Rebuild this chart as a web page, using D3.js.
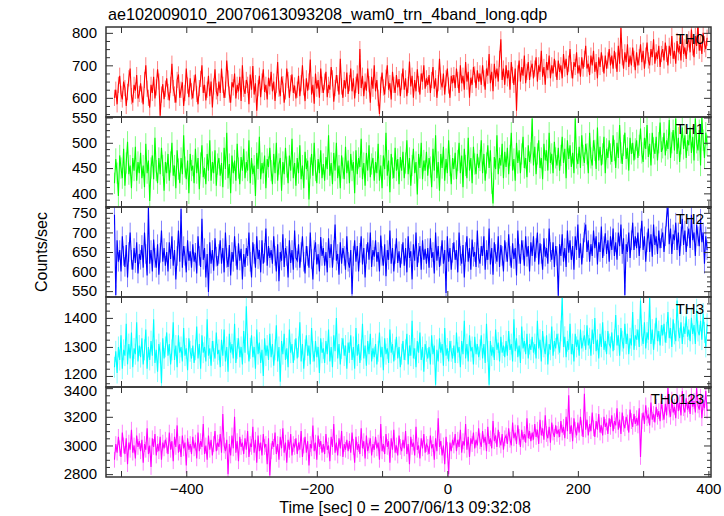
<!DOCTYPE html>
<html><head><meta charset="utf-8">
<script src="https://cdn.jsdelivr.net/npm/d3@7"></script>
<style>
body{margin:0;background:#fff}
svg{display:block}
text{font-family:"Liberation Sans",Arial,Helvetica,sans-serif;fill:#000}
</style>
</head><body>
<svg id="chart" width="724" height="516"></svg>
<script>
const chartTitle = "ae102009010_20070613093208_wam0_trn_4band_long.qdp";
const xTitle = "Time [sec] 0 = 2007/06/13 09:32:08";
const yTitle = "Counts/sec";
const bandNames = ["TH0", "TH1", "TH2", "TH3", "TH0123"];
const xTickLabels = [-400, -200, 0, 200, 400];
const xTickMarks = [-500, -400, -300, -200, -100, 0, 100, 200, 300, 400];
const timeStart = -510, timeStep = 2;
const bandErrors = [25, 21, 25, 36, 55];

const th0 = [
600,625,580,640,668,612,595,650,630,575,618,660,690,605,585,640,622,670,598,612,
645,610,580,655,700,628,600,570,640,615,665,598,632,688,650,545,610,642,596,628,
660,618,592,640,705,630,610,585,655,672,600,625,648,575,615,690,638,602,660,620,
598,645,672,612,580,630,658,700,615,640,592,625,668,605,650,570,635,688,620,605,
650,615,690,640,600,625,715,660,610,585,648,632,675,598,640,620,665,590,700,628,
612,655,640,580,672,625,698,610,645,560,630,668,602,650,688,618,640,595,662,635,
680,620,650,590,640,710,628,605,665,642,585,620,690,655,600,645,672,615,638,598,
625,668,605,645,700,632,590,660,622,650,718,610,640,582,675,628,655,600,690,640,
615,650,680,602,640,625,695,660,588,630,670,645,610,720,635,600,655,628,678,612,
645,690,620,660,598,640,675,612,750,630,668,605,650,622,690,642,585,665,628,700,
620,655,600,550,640,678,632,610,662,700,625,645,595,680,640,615,670,632,658,605,
650,690,625,660,605,640,712,635,668,600,655,620,688,642,610,675,650,700,628,660,
640,670,615,655,695,628,660,600,645,720,650,632,675,610,660,690,638,600,668,645,
670,630,690,655,615,700,645,668,625,710,650,680,600,662,640,695,672,630,685,650,
675,640,700,660,625,690,668,735,645,680,620,705,660,690,650,720,780,655,690,640,
700,660,685,625,710,670,640,690,560,675,715,650,695,668,730,645,680,710,655,690,
705,660,690,725,650,700,680,745,665,695,640,710,685,730,660,700,675,720,690,655,
715,680,700,660,735,690,720,670,705,750,685,660,710,695,740,675,700,665,725,690,
720,760,690,705,670,730,700,745,680,710,660,725,695,740,705,675,730,690,715,750,
700,730,690,745,715,680,760,705,815,725,690,740,710,765,695,730,700,755,720,685,
740,700,725,765,710,745,690,730,770,715,700,750,725,780,705,740,720,760,695,735,
750,715,770,735,700,760,730,790,720,745,705,775,740,760,715,795,735,755,720,770,
780,740,810,755,725,790,760,830,745,770,735,800,765,750,785];

const th1 = [
420,468,440,395,475,450,430,488,415,460,502,438,455,410,470,445,492,425,462,440,
480,430,455,412,498,440,465,385,450,475,428,510,445,420,470,438,490,455,405,462,
440,478,425,462,500,435,455,410,485,448,420,470,438,515,452,428,465,400,478,445,
455,420,488,440,470,408,460,495,432,450,418,478,445,505,425,462,440,485,415,458,
470,435,460,412,490,448,520,430,458,400,475,440,465,425,498,450,418,472,445,488,
430,462,445,505,420,470,438,455,395,480,448,512,428,460,440,475,410,468,452,490,
445,418,478,440,500,425,458,470,405,462,438,490,452,420,475,445,508,430,460,415,
470,440,495,428,455,410,482,448,465,388,450,478,435,500,445,420,468,440,485,430,
458,425,472,448,515,435,460,418,480,445,500,430,455,410,475,450,428,492,440,465,
420,478,445,462,400,485,438,470,452,508,428,460,415,480,445,495,432,458,470,425,
462,440,498,425,455,410,475,448,520,435,465,402,478,450,430,490,445,468,418,472,
445,482,430,460,505,438,470,415,455,488,440,462,398,478,450,500,428,465,445,482,
435,470,452,412,488,445,515,430,462,405,478,450,492,425,468,440,505,455,418,470,
448,480,428,465,500,440,475,412,488,455,430,510,445,470,420,492,458,438,478,450,
465,505,440,478,425,460,495,450,485,420,380,472,448,515,438,470,455,498,430,482,
452,490,438,475,520,445,468,425,500,460,485,440,478,512,450,470,432,495,462,480,
548,455,492,438,478,505,450,470,428,498,465,485,445,520,460,478,440,502,470,455,
490,445,475,512,460,488,430,505,468,495,452,480,440,548,470,458,492,450,515,475,
460,498,478,440,520,470,455,505,485,448,530,465,492,455,478,512,440,488,470,505,
478,462,515,485,450,500,470,535,480,458,495,520,468,490,445,510,478,500,465,488,
505,470,495,528,480,462,510,488,535,472,498,455,520,490,478,512,465,500,540,482,
490,520,475,505,488,545,470,500,525,485,548,478,510,462,498,530,488,515,470,505,
495,530,480,512,465,548,500,485,525,455,550,505,470,520,495];

const th2 = [
745,540,680,625,655,600,690,640,612,668,585,650,700,630,605,660,622,675,595,645,
630,668,610,700,645,590,765,620,655,600,682,635,610,670,592,648,705,625,660,615,
650,600,675,632,690,615,655,580,640,705,625,760,610,665,640,598,680,628,652,610,
670,625,648,595,690,640,612,735,630,660,585,645,548,675,620,655,602,685,638,615,
645,680,620,660,598,700,635,612,668,590,650,625,690,640,605,672,628,658,580,645,
612,660,640,700,625,585,675,645,610,690,632,655,598,680,620,648,710,615,665,635,
655,620,690,640,600,670,575,650,628,695,612,660,640,585,680,622,655,605,705,635,
628,670,610,650,690,625,595,665,640,610,700,632,580,655,675,618,645,600,688,640,
660,615,650,598,685,635,670,610,655,720,628,645,592,675,620,660,640,605,690,625,
610,655,542,640,680,625,665,600,648,690,618,660,585,645,675,630,700,612,655,638,
680,625,650,600,692,640,615,670,588,655,630,705,620,660,600,645,685,622,652,610,
645,675,615,660,598,690,635,652,580,670,628,700,612,648,665,605,680,630,658,620,
660,610,685,635,650,595,700,628,665,612,640,680,620,655,545,690,625,660,605,648,
675,630,655,598,700,640,620,668,585,650,690,625,660,605,682,638,650,612,705,635,
620,665,640,690,605,655,630,710,618,660,592,675,645,625,690,612,668,640,600,680,
650,625,695,640,610,672,632,660,590,705,645,620,680,655,615,690,638,665,600,675,
640,690,625,660,700,618,672,645,605,685,638,660,620,710,650,630,675,612,665,640,
538,670,640,695,625,660,612,705,648,680,630,665,605,690,655,720,635,672,618,660,
700,720,650,680,625,670,640,705,660,690,618,675,650,715,635,665,698,645,680,625,
690,655,710,640,675,630,700,665,720,645,685,540,670,650,700,635,680,725,655,690,
660,700,640,685,730,655,690,625,675,710,650,695,638,720,668,690,645,705,660,685,
700,650,690,740,765,670,710,645,695,680,725,655,700,640,690,735,668,705,650,690,
710,660,745,680,700,640,720,690,665,735,675,700,620,690,655];

const th3 = [
1230,1285,1210,1300,1255,1340,1225,1290,1270,1380,1240,1310,1260,1350,1230,1295,1275,1385,1250,1305,
1265,1330,1240,1290,1360,1225,1300,1255,1320,1270,1395,1245,1290,1215,1310,1280,1175,1330,1260,1300,
1350,1270,1310,1240,1290,1385,1255,1305,1230,1340,1280,1300,1250,1365,1270,1295,1220,1330,1285,1260,
1305,1245,1290,1370,1260,1310,1225,1340,1280,1300,1250,1395,1270,1295,1235,1320,1285,1260,1350,1275,
1290,1230,1325,1270,1360,1250,1300,1215,1345,1280,1310,1260,1380,1245,1295,1330,1265,1300,1240,1355,
1280,1440,1310,1250,1295,1340,1265,1300,1225,1360,1275,1315,1245,1290,1200,1330,1270,1305,1255,1345,
1265,1310,1235,1290,1375,1250,1300,1180,1320,1275,1345,1255,1295,1230,1360,1280,1310,1245,1290,1330,
1260,1300,1385,1250,1310,1225,1290,1340,1270,1305,1240,1365,1285,1250,1320,1265,1300,1210,1330,1280,
1295,1245,1320,1275,1360,1250,1300,1230,1340,1285,1400,1260,1310,1240,1295,1330,1270,1305,1225,1315,
1280,1340,1255,1300,1225,1365,1270,1310,1245,1290,1380,1260,1305,1235,1320,1275,1345,1250,1295,1265,
1310,1240,1285,1350,1265,1300,1220,1330,1275,1295,1245,1360,1280,1310,1250,1290,1335,1260,1300,1230,
1275,1320,1255,1290,1345,1240,1305,1270,1390,1260,1295,1230,1320,1280,1350,1255,1300,1215,1310,1285,
1260,1300,1240,1340,1275,1305,1170,1290,1250,1330,1280,1310,1235,1365,1270,1295,1250,1320,1285,1260,
1305,1245,1350,1280,1300,1230,1320,1275,1390,1260,1310,1250,1340,1285,1300,1240,1335,1275,1310,1265,
1290,1340,1260,1310,1245,1380,1285,1170,1320,1270,1300,1255,1360,1290,1315,1250,1335,1280,1305,1265,
1320,1270,1355,1290,1310,1250,1395,1285,1330,1265,1305,1245,1370,1295,1320,1275,1345,1260,1310,1290,
1335,1280,1310,1260,1390,1295,1325,1250,1355,1300,1275,1340,1240,1310,1290,1370,1270,1320,1295,1345,
1310,1280,1355,1470,1300,1335,1265,1320,1290,1380,1275,1310,1250,1345,1300,1325,1270,1360,1295,1320,
1340,1290,1375,1305,1330,1270,1360,1310,1400,1285,1325,1260,1345,1300,1385,1290,1320,1275,1355,1310,
1300,1350,1285,1325,1410,1305,1340,1270,1365,1320,1295,1380,1310,1345,1275,1330,1305,1420,1290,1340,
1325,1360,1300,1460,1340,1310,1385,1295,1350,1325,1470,1310,1360,1290,1345,1400,1320,1355,1305,1375,
1340,1380,1315,1350,1420,1330,1365,1300,1395,1345,1320,1460,1355,1330,1385,1310,1370,1345,1405,1335,
1360,1320,1400,1345,1375,1310,1430,1355,1340,1390,1325,1415,1350,1300,1380];

const th0123 = [
2900,3010,2950,3060,2980,2920,3090,3000,2940,3050,2870,3020,2970,3110,2950,3000,2910,3070,2990,3030,
2960,3040,2880,3010,2970,3120,2940,3000,2850,3050,2990,3080,2930,3010,2960,3060,2900,3020,2980,3040,
3000,2940,3090,2970,3030,2890,3060,2990,3140,2950,3010,2920,3070,2980,3020,2860,3050,2970,3010,2940,
3060,2980,3020,2910,3090,2960,3030,2990,3150,2940,3000,2900,3070,2970,3040,2930,3010,3100,2960,3020,
2990,3080,2950,3220,3000,2960,3040,2800,3010,2930,3070,2980,3200,2950,3030,2890,3060,2990,3020,2940,
3050,2970,3100,2920,3010,2990,3130,2950,3040,2880,3070,2960,3020,2930,3080,2990,3010,2870,3050,2790,
2960,3030,2990,3090,2940,3010,2900,3060,2980,3120,2950,3020,2880,3040,2970,3080,2930,3010,2990,3050,
2940,3020,2970,3100,2920,3000,3060,2950,3030,2860,3010,2980,3140,2960,3020,2900,3070,2990,3030,2950,
3010,2940,3080,2970,3000,2890,3060,2990,3150,2950,3020,2930,3050,2980,3100,2920,3010,2970,3040,2960,
3030,2950,3090,2990,2880,3060,2970,3010,2940,3120,2980,3030,2910,3070,2960,3000,3050,2930,3010,2970,
3060,2980,3020,2900,3150,2960,3010,2940,3080,2990,3030,2880,3050,2970,3110,2950,3000,2930,3070,2990,
2960,3040,2980,3100,2940,3010,2870,3060,2990,3020,2930,3130,2970,3000,2910,3050,2980,3080,2950,3010,
2990,2940,3070,2980,3010,2900,3050,2960,3190,2990,3030,2930,3000,2870,3060,2970,2800,3020,2960,3040,
3000,3080,2960,3040,2990,3110,2950,3030,3000,3150,2970,3060,2920,3050,3010,3090,2980,3040,3000,3120,
3030,2990,3100,3020,3060,2960,3130,3010,3050,2980,3170,3030,3070,2990,3110,3040,3000,3080,2970,3050,
3070,3010,3120,3040,3000,3160,3050,3090,3010,3140,3060,2990,3110,3040,3080,3020,3190,3050,3100,3030,
3090,3040,3150,3060,3110,3010,3180,3070,3120,3040,3210,3080,3050,3130,3020,3160,3090,3060,3140,3080,
3110,3060,3170,3090,3130,3050,3200,3100,3350,3080,3140,3030,3190,3110,3070,3160,3090,3200,3120,3060,
3360,3110,3180,3070,3150,3100,3230,3120,3060,3170,3110,3220,3090,3140,3070,3200,3130,3160,3080,3190,
3130,3210,3100,3170,3140,3260,3110,3180,3080,3230,3150,3120,3200,3160,3090,3250,3170,3130,3220,3150,
3190,3140,3260,2920,3170,3230,3150,3280,3190,3210,3140,3300,3180,3220,3160,3270,3200,3240,3170,3310,
3230,3180,3290,3210,3400,3250,3200,3320,3230,3270,3190,3350,3240,3300,3210,3380,3260,3230,3330,3250,
3290,3220,3360,3270,3310,3230,3400,3280,3250,3340,3190,3300,3260,3380,3240];

const series = [th0, th1, th2, th3, th0123];
const colors = ["#ff0000", "#00ff00", "#0000ff", "#00ffff", "#ff00ff"];
const yDomains = [[541, 818], [373, 551], [535, 765], [1162, 1472], [2780, 3408]];
const yMajor = [100, 50, 50, 100, 200];
const yMinor = [25, 12.5, 12.5, 25, 50];

const svg = d3.select("#chart");
const left = 106, right = 711, top0 = 27, ph = 90;
const x = d3.scaleLinear().domain([-523, 404]).range([left, right]);

function ticksBetween(dom, step) {
  const out = [];
  const s = Math.ceil(dom[0] / step - 1e-9);
  for (let k = s; k * step <= dom[1] + 1e-9; k++) out.push(k * step);
  return out;
}

series.forEach((vals, p) => {
  const yTop = top0 + p * ph, yBot = yTop + ph;
  const y = d3.scaleLinear().domain(yDomains[p]).range([yBot, yTop]);
  const g = svg.append("g");
  const clipId = "clip" + p;
  svg.append("clipPath").attr("id", clipId).append("rect")
    .attr("x", left).attr("y", yTop).attr("width", right - left).attr("height", ph);

  const data = vals.map((v, i) => ({t: timeStart + i * timeStep, v}));
  const err = bandErrors[p];
  const dg = g.append("g").attr("clip-path", `url(#${clipId})`);
  dg.append("path")
    .attr("d", data.map(d => `M${x(d.t)},${y(d.v - err)}V${y(d.v + err)}`).join(""))
    .attr("stroke", colors[p]).attr("stroke-opacity", 0.5).attr("stroke-width", 1).attr("fill", "none");
  dg.append("path").datum(data)
    .attr("d", d3.line().x(d => x(d.t)).y(d => y(d.v)))
    .attr("stroke", colors[p]).attr("stroke-width", 1.1).attr("fill", "none");

  const majors = ticksBetween(yDomains[p], yMajor[p]);
  const minors = ticksBetween(yDomains[p], yMinor[p]).filter(v => !majors.some(m => Math.abs(m - v) < 1e-6));
  const styleAxis = a => { a.select(".domain").remove(); a.selectAll("line").attr("stroke", "#333"); };
  const yl = g.append("g").attr("transform", `translate(${left},0)`)
    .call(d3.axisLeft(y).tickValues(majors).tickSize(-7).tickPadding(9).tickFormat(d3.format("d")))
    .call(styleAxis);
  yl.selectAll("text").attr("font-size", 15).attr("font-family", "Liberation Sans, Arial, sans-serif");
  if (p === series.length - 1) {
    yl.selectAll("text").filter(d => d === majors[majors.length - 1]).attr("dy", "0.52em");
  }
  if (p === series.length - 2) {
    yl.selectAll("text").filter(d => d === majors[0]).attr("dy", "0.15em");
  }
  g.append("g").attr("transform", `translate(${left},0)`)
    .call(d3.axisLeft(y).tickValues(minors).tickSize(-4).tickFormat("")).call(styleAxis);
  g.append("g").attr("transform", `translate(${right},0)`)
    .call(d3.axisRight(y).tickValues(majors).tickSize(-7).tickFormat("")).call(styleAxis);
  g.append("g").attr("transform", `translate(${right},0)`)
    .call(d3.axisRight(y).tickValues(minors).tickSize(-4).tickFormat("")).call(styleAxis);

  g.append("g").attr("transform", `translate(0,${yTop})`)
    .call(d3.axisTop(x).tickValues(xTickMarks).tickSize(-6).tickFormat("")).call(styleAxis);
  const xb = g.append("g").attr("transform", `translate(0,${yBot})`)
    .call(d3.axisBottom(x).tickValues(xTickMarks).tickSize(-6).tickPadding(6)
      .tickFormat(p === series.length - 1 ? (d => xTickLabels.includes(d) ? d3.format("d")(d) : "") : ""))
    .call(styleAxis);
  xb.selectAll("text").attr("font-size", 15).attr("font-family", "Liberation Sans, Arial, sans-serif");

  g.append("rect").attr("x", left).attr("y", yTop).attr("width", right - left).attr("height", ph)
    .attr("fill", "none").attr("stroke", "#333").attr("stroke-width", 1.5);

  g.append("text").attr("x", right - 7).attr("y", yTop + 17).attr("text-anchor", "end")
    .attr("font-size", 15).text(bandNames[p]);
});

svg.append("text").attr("x", 108).attr("y", 20).attr("font-size", 16.2).text(chartTitle);
svg.append("text").attr("x", 405).attr("y", 513).attr("text-anchor", "middle")
  .attr("font-size", 16).text(xTitle);
svg.append("text").attr("transform", `translate(47,${top0 + 2.5 * ph}) rotate(-90)`)
  .attr("text-anchor", "middle").attr("font-size", 16).text(yTitle);
</script>
</body></html>
